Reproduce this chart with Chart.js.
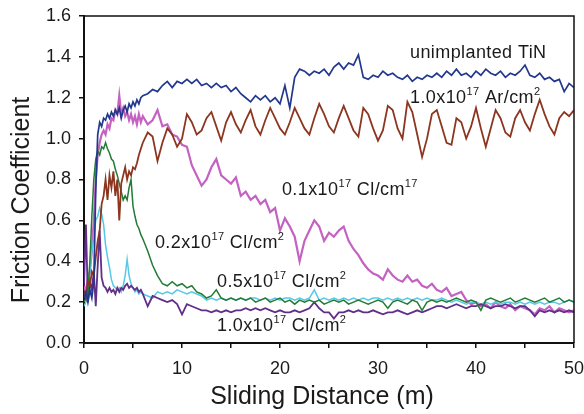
<!DOCTYPE html>
<html>
<head>
<meta charset="utf-8">
<script src="https://cdn.jsdelivr.net/npm/chart.js@4"></script>
<style>
  html, body { margin: 0; padding: 0; background: #fff; }
  canvas { display: block; }
</style>
</head>
<body>
<canvas id="frictionChart" width="584" height="414"></canvas>
<script>
// sliding distance (m) - finer steps at the start where the curves move fast
const distance = [
  0, 0.2, 0.4, 0.6, 0.8, 1, 1.2, 1.4, 1.6, 1.8, 2, 2.2, 2.4, 2.6, 2.8, 3, 3.2, 3.4, 3.6, 3.8,
  4, 4.2, 4.4, 4.6, 4.8, 5, 5.2, 5.4, 5.6, 5.8, 6,
  6.5, 7, 7.5, 8, 8.5, 9, 9.5, 10, 10.5, 11,
  11.5, 12, 12.5, 13, 13.5, 14, 14.5, 15, 15.5, 16,
  16.5, 17, 17.5, 18, 18.5, 19, 19.5, 20, 20.5, 21,
  21.5, 22, 22.5, 23, 23.5, 24, 24.5, 25, 25.5, 26,
  26.5, 27, 27.5, 28, 28.5, 29, 29.5, 30, 30.5, 31,
  31.5, 32, 32.5, 33, 33.5, 34, 34.5, 35, 35.5, 36,
  36.5, 37, 37.5, 38, 38.5, 39, 39.5, 40, 40.5, 41,
  41.5, 42, 42.5, 43, 43.5, 44, 44.5, 45, 45.5, 46,
  46.5, 47, 47.5, 48, 48.5, 49, 49.5, 50
];

const unimplantedTiN = [
  0.22, 0.25, 0.20, 0.26, 0.22, 0.30, 0.75, 1.02, 1.08, 1.06, 1.10, 1.09, 1.12, 1.10, 1.13, 1.11, 1.14, 1.12, 1.15, 1.10,
  1.14, 1.16, 1.13, 1.17, 1.15, 1.18, 1.16, 1.19, 1.17, 1.20, 1.21,
  1.22, 1.24, 1.23, 1.26, 1.28, 1.25, 1.28, 1.27, 1.29, 1.27,
  1.29, 1.26, 1.27, 1.25, 1.27, 1.25, 1.26, 1.23, 1.25, 1.22,
  1.20, 1.18, 1.21, 1.19, 1.21, 1.18, 1.20, 1.17, 1.26, 1.15,
  1.30, 1.34, 1.33, 1.31, 1.33, 1.32, 1.34, 1.31, 1.35, 1.37,
  1.34, 1.37, 1.36, 1.41, 1.30, 1.29, 1.31, 1.30, 1.33, 1.31,
  1.32, 1.30, 1.29, 1.31, 1.28, 1.30, 1.29, 1.31, 1.30, 1.32,
  1.30, 1.33, 1.31, 1.34, 1.31, 1.32, 1.30, 1.33, 1.31, 1.34,
  1.32, 1.31, 1.33, 1.30, 1.32, 1.31, 1.33, 1.36, 1.31, 1.30,
  1.32, 1.29, 1.30, 1.28, 1.29, 1.23, 1.27, 1.25
];

const argon10 = [
  0.25, 0.22, 0.30, 0.28, 0.35, 0.33, 0.42, 0.50, 0.55, 0.68, 0.72, 0.80, 0.70, 0.82, 0.76, 0.84, 0.72, 0.80, 0.60, 0.78,
  0.82, 0.86, 0.80, 0.84, 0.82, 0.86, 0.85, 0.88, 0.92, 0.95, 0.98,
  1.03, 1.01, 0.89, 0.98, 1.05, 1.02, 0.96, 1.00, 1.12, 1.08,
  1.02, 1.04, 1.10, 1.13, 1.06, 0.99, 1.08, 1.13, 1.07, 1.03,
  1.09, 1.14, 1.06, 1.02, 1.09, 1.15, 1.10, 1.05, 1.02, 1.08,
  1.15, 1.10, 1.05, 1.02, 1.10, 1.17, 1.12, 1.06, 1.03, 1.10,
  1.16, 1.10, 1.04, 1.01, 1.15, 1.12, 1.05, 0.99, 1.04, 1.16,
  1.14, 1.05, 1.00, 1.18, 1.13, 1.02, 0.91, 1.00, 1.12, 1.14,
  1.06, 0.98, 0.97, 1.10, 1.08, 1.00, 1.06, 1.15, 1.05, 0.96,
  1.05, 1.14, 1.10, 1.03, 1.01, 1.10, 1.14, 1.08, 1.04, 1.12,
  1.19, 1.12, 1.06, 1.02, 1.10, 1.13, 1.11, 1.14
];

const chlorine01 = [
  0.28, 0.25, 0.32, 0.35, 0.45, 0.60, 0.80, 0.92, 0.98, 1.02, 1.04, 1.02, 1.07, 1.05, 1.10, 1.09, 1.14, 1.12, 1.21, 1.12,
  1.15, 1.11, 1.13, 1.09, 1.12, 1.08, 1.11, 1.07, 1.12, 1.08, 1.11,
  1.07, 1.09, 1.14, 1.06, 1.07, 1.02, 1.01, 0.97, 0.96, 0.87,
  0.82, 0.77, 0.80, 0.86, 0.90, 0.82, 0.80, 0.78, 0.81, 0.72,
  0.74, 0.70, 0.72, 0.68, 0.70, 0.64, 0.66, 0.55, 0.61, 0.57,
  0.52, 0.40, 0.50, 0.55, 0.60, 0.57, 0.50, 0.54, 0.52, 0.55,
  0.57, 0.50, 0.46, 0.43, 0.39, 0.36, 0.34, 0.33, 0.31, 0.36,
  0.33, 0.31, 0.30, 0.33, 0.30, 0.31, 0.28, 0.27, 0.29, 0.26,
  0.25, 0.27, 0.23, 0.24, 0.25, 0.21, 0.19, 0.20, 0.18, 0.19,
  0.17, 0.20, 0.18, 0.17, 0.19, 0.16, 0.18, 0.17, 0.16, 0.14,
  0.17, 0.16, 0.18, 0.15, 0.17, 0.16, 0.15, 0.16
];

const chlorine02 = [
  0.20, 0.22, 0.25, 0.40, 0.62, 0.80, 0.90, 0.94, 0.92, 0.96, 0.95, 0.98, 0.95, 0.93, 0.90, 0.89, 0.85, 0.82, 0.78, 0.74,
  0.70, 0.72, 0.70, 0.76, 0.80, 0.67, 0.62, 0.58, 0.56, 0.53, 0.51,
  0.45, 0.38, 0.33, 0.29, 0.28, 0.30, 0.28, 0.29, 0.27, 0.28,
  0.25, 0.24, 0.22, 0.23, 0.26, 0.22, 0.21, 0.22, 0.21, 0.22,
  0.21, 0.22, 0.20, 0.21, 0.22, 0.20, 0.21, 0.22, 0.20, 0.21,
  0.19, 0.21, 0.20, 0.21, 0.20, 0.21, 0.19, 0.20, 0.21, 0.20,
  0.21, 0.19, 0.20, 0.21, 0.20, 0.19, 0.20, 0.21, 0.20, 0.17,
  0.20, 0.21, 0.20, 0.19, 0.21, 0.20, 0.16, 0.20, 0.21, 0.20,
  0.21, 0.20, 0.21, 0.22, 0.21, 0.20, 0.21, 0.20, 0.16, 0.21,
  0.22, 0.21, 0.20, 0.21, 0.22, 0.20, 0.21, 0.22, 0.21, 0.20,
  0.21, 0.22, 0.20, 0.21, 0.22, 0.20, 0.21, 0.20
];

const chlorine05 = [
  0.18, 0.20, 0.28, 0.35, 0.45, 0.52, 0.60, 0.62, 0.66, 0.63, 0.58, 0.48, 0.42, 0.37, 0.31, 0.28, 0.27, 0.26, 0.27, 0.25,
  0.28, 0.33, 0.41, 0.33, 0.29, 0.27, 0.25, 0.26, 0.24, 0.25, 0.24,
  0.23, 0.22, 0.25, 0.24, 0.25, 0.24, 0.26, 0.25, 0.24, 0.25,
  0.24, 0.23, 0.21, 0.22, 0.21, 0.22, 0.21, 0.22, 0.21, 0.22,
  0.21, 0.22, 0.22, 0.21, 0.22, 0.21, 0.22, 0.21, 0.22, 0.22,
  0.21, 0.22, 0.21, 0.22, 0.26, 0.21, 0.22, 0.21, 0.22, 0.21,
  0.22, 0.21, 0.22, 0.21, 0.22, 0.21, 0.22, 0.22, 0.21, 0.22,
  0.21, 0.22, 0.21, 0.22, 0.21, 0.22, 0.21, 0.22, 0.21, 0.21,
  0.22, 0.21, 0.20, 0.21, 0.20, 0.19, 0.20, 0.20, 0.19, 0.20,
  0.19, 0.20, 0.19, 0.20, 0.20, 0.19, 0.20, 0.19, 0.20, 0.19,
  0.20, 0.19, 0.20, 0.20, 0.19, 0.20, 0.21, 0.20
];

const chlorine10 = [
  0.28, 0.58, 0.20, 0.30, 0.26, 0.35, 0.18, 0.38, 0.55, 0.32, 0.28, 0.27, 0.25, 0.27, 0.25, 0.26, 0.24, 0.27, 0.25, 0.27,
  0.26, 0.28, 0.29, 0.27, 0.28, 0.27, 0.26, 0.27, 0.25, 0.26, 0.24,
  0.18, 0.23, 0.22, 0.21, 0.20, 0.21, 0.19, 0.14, 0.19, 0.18,
  0.17, 0.16, 0.16, 0.15, 0.16, 0.15, 0.16, 0.15, 0.16, 0.16,
  0.17, 0.16, 0.17, 0.16, 0.17, 0.16, 0.15, 0.16, 0.15, 0.15,
  0.16, 0.15, 0.16, 0.17, 0.20, 0.17, 0.15, 0.15, 0.12, 0.15,
  0.15, 0.16, 0.15, 0.16, 0.15, 0.15, 0.16, 0.15, 0.14, 0.15,
  0.15, 0.16, 0.15, 0.14, 0.15, 0.16, 0.15, 0.16, 0.17, 0.18,
  0.18, 0.17, 0.18, 0.19, 0.18, 0.17, 0.18, 0.18, 0.19, 0.18,
  0.17, 0.18, 0.18, 0.19, 0.18, 0.17, 0.18, 0.18, 0.16, 0.13,
  0.16, 0.15, 0.16, 0.15, 0.16, 0.15, 0.16, 0.15
];

const yTicks = [0, 0.2, 0.4, 0.6, 0.8, 1.0, 1.2, 1.4, 1.6];
const xLabels = [0, 10, 20, 30, 40, 50];

const FONT = '"Liberation Sans", Arial, sans-serif';

const toPoints = (values) => values.map((v, i) => ({ x: distance[i], y: v }));

// text labels next to the curves (superscripts drawn smaller and raised)
const curveNotes = [
  { x: 33.27, y: 1.42, parts: [['unimplanted TiN', false]] },
  { x: 33.27, y: 1.20, parts: [['1.0x10', false], ['17', true], [' Ar/cm', false], ['2', true]] },
  { x: 20.2, y: 0.75, parts: [['0.1x10', false], ['17', true], [' Cl/cm', false], ['17', true]] },
  { x: 7.24, y: 0.49, parts: [['0.2x10', false], ['17', true], [' Cl/cm', false], ['2', true]] },
  { x: 13.57, y: 0.30, parts: [['0.5x10', false], ['17', true], [' Cl/cm', false], ['2', true]] },
  { x: 13.57, y: 0.083, parts: [['1.0x10', false], ['17', true], [' Cl/cm', false], ['2', true]] }
];

const decorations = {
  id: 'decorations',
  afterDraw(chart) {
    const { ctx, chartArea, scales } = chart;
    ctx.save();

    // top and right frame
    ctx.strokeStyle = '#111';
    ctx.lineWidth = 1.5;
    ctx.beginPath();
    ctx.moveTo(chartArea.left, chartArea.top);
    ctx.lineTo(chartArea.right, chartArea.top);
    ctx.lineTo(chartArea.right, chartArea.bottom);
    ctx.stroke();

    ctx.fillStyle = '#1a1a1a';
    ctx.textBaseline = 'middle';

    // axis titles
    ctx.font = '25px ' + FONT;
    ctx.textAlign = 'center';
    ctx.fillText('Sliding Distance (m)', 322, 397);
    ctx.save();
    ctx.translate(22, 200);
    ctx.rotate(-Math.PI / 2);
    ctx.fillText('Friction Coefficient', 0, 0);
    ctx.restore();

    // curve labels
    ctx.textAlign = 'left';
    ctx.letterSpacing = '0.4px';
    curveNotes.forEach(note => {
      let cx = scales.x.getPixelForValue(note.x);
      const cy = scales.y.getPixelForValue(note.y);
      note.parts.forEach(([txt, sup]) => {
        ctx.font = (sup ? '11px ' : '18px ') + FONT;
        ctx.fillText(txt, cx, sup ? cy - 6 : cy);
        cx += ctx.measureText(txt).width;
      });
    });

    ctx.restore();
  }
};

const makeSet = (label, values, color, width) => ({
  label: label,
  data: toPoints(values),
  borderColor: color,
  borderWidth: width,
  pointRadius: 0,
  tension: 0,
  fill: false
});

new Chart(document.getElementById('frictionChart').getContext('2d'), {
  type: 'line',
  data: {
    datasets: [
      makeSet('unimplanted TiN', unimplantedTiN, '#22388c', 1.7),
      makeSet('1.0x10^17 Ar/cm^2', argon10, '#8c3620', 1.8),
      makeSet('0.2x10^17 Cl/cm^2', chlorine02, '#237b36', 1.5),
      makeSet('1.0x10^17 Cl/cm^2', chlorine10, '#612f8a', 1.8),
      makeSet('0.5x10^17 Cl/cm^2', chlorine05, '#58c8e6', 1.5),
      makeSet('0.1x10^17 Cl/cm^17', chlorine01, '#c462c2', 2.2)
    ]
  },
  options: {
    responsive: false,
    animation: false,
    layout: {
      autoPadding: false,
      padding: { left: 0, top: 16, right: 10, bottom: 0 }
    },
    plugins: {
      legend: { display: false },
      tooltip: { enabled: false }
    },
    scales: {
      x: {
        type: 'linear',
        min: 0,
        max: 50,
        afterFit: (scale) => {
          scale.height = 71;
          scale.paddingLeft = 0;
          scale.paddingRight = 0;
        },
        border: { color: '#111', width: 2 },
        grid: { drawOnChartArea: false, tickLength: 5, color: '#111', lineWidth: 1.5 },
        ticks: {
          stepSize: 5,
          padding: 10,
          color: '#1a1a1a',
          font: { family: FONT, size: 18 },
          callback: (v) => xLabels.includes(v) ? String(v) : ''
        }
      },
      y: {
        min: 0,
        max: 1.6,
        afterFit: (scale) => {
          scale.width = 84;
          scale.paddingTop = 0;
          scale.paddingBottom = 0;
        },
        afterBuildTicks: (scale) => { scale.ticks = yTicks.map(v => ({ value: v })); },
        border: { color: '#111', width: 2 },
        grid: { drawOnChartArea: false, tickLength: 5, color: '#111', lineWidth: 1.5 },
        ticks: {
          padding: 8,
          color: '#1a1a1a',
          font: { family: FONT, size: 18 },
          callback: (v) => v.toFixed(1)
        }
      }
    }
  },
  plugins: [decorations]
});
</script>
</body>
</html>
